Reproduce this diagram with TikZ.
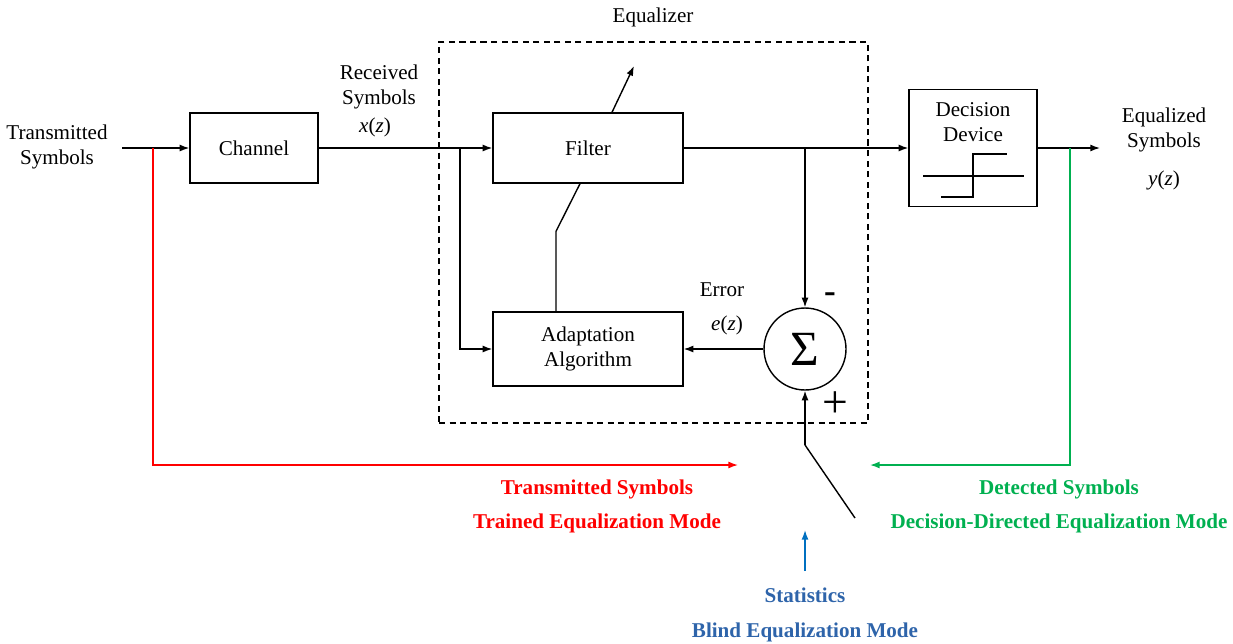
\documentclass[tikz,border=0pt]{standalone}
\usepackage{fontspec}
\setmainfont{Liberation Serif}
\usetikzlibrary{calc,arrows.meta}

\definecolor{trainred}{RGB}{255,0,0}
\definecolor{ddgreen}{RGB}{0,176,80}
\definecolor{blindblue}{RGB}{46,100,170}
\definecolor{arrowblue}{RGB}{0,112,192}

\tikzset{
  blk/.style={draw,line width=0.8pt,align=center},
  lbl/.style={align=center,inner sep=1pt},
  modelbl/.style={font=\fontsize{12}{14}\selectfont\bfseries,inner sep=1pt}
}

\begin{document}
\begin{tikzpicture}[x=0.02cm,y=-0.02cm,>={Latex[length=5.5pt,width=4pt]},line width=0.8pt,
    every node/.style={font=\fontsize{12}{14}\selectfont}]
      \useasboundingbox (0,0) rectangle (1233,643);
      % blocks
      \node [blk,minimum width=2.56cm,minimum height=1.4cm] (chan) at (254,148) {Channel};
      \node [blk,minimum width=3.8cm,minimum height=1.4cm] (filt) at (588,148) {Filter};
      \node [blk,minimum width=3.8cm,minimum height=1.48cm] (adapt) at (588,349) {Adaptation\\Algorithm};
      \node [blk,minimum width=2.56cm,minimum height=2.34cm] (dec) at (973,148) {};
      \node [lbl] (dectxt) at (973,122) {Decision\\Device};
      \node [draw,circle,minimum size=1.64cm,inner sep=0pt] (sum) at (805,349)
            {\fontsize{28}{30}\selectfont Σ};
      \node [draw,dashed,dash pattern=on 3.5pt off 2.5pt,minimum width=8.58cm,
             minimum height=7.62cm] (eqbox) at (653.5,232.5) {};
      % texts
      \node [lbl] (eqtxt) at (653,17) {Equalizer};
      \node [lbl] (txin) at (57,147) {Transmitted\\Symbols};
      \node [lbl] (rxtxt) at (379,87) {Received\\Symbols};
      \node [lbl] (xz) at (375,127) {\textit{x}(\textit{z})};
      \node [lbl] (outtxt) at (1164,130) {Equalized\\Symbols};
      \node [lbl] (yz) at (1164,180) {\textit{y}(\textit{z})};
      \node [lbl] (errtxt) at (722,290) {Error};
      \node [lbl] (ez) at (727,325) {\textit{e}(\textit{z})};
      \node [lbl] (minus) at (830,298) {\fontsize{20}{22}\selectfont\bfseries -};
      \node [lbl] (plus) at (835,405) {\fontsize{26}{28}\selectfont +};
      % points
      \coordinate (inpt) at (122,148);
      \coordinate (redtap) at (153,148);
      \coordinate (rxtap) at (460,148);
      \coordinate (errtap) at (805,148);
      \coordinate (outpt) at (1100,148);
      \coordinate (greentap) at (1070,148);
      \coordinate (tuneend) at (634,66);
      \coordinate (swbot) at (805,445);
      \coordinate (swend) at (855,518);
      \coordinate (redend) at (738,465);
      \coordinate (greenend) at (870,465);
      \coordinate (bluetop) at (805,530);
      % main path
      \draw [->] (inpt) -- (chan.west);
      \draw [->] (chan.east) -- (filt.west);
      \draw [->] (rxtap) |- (adapt.west);
      \draw [->] (filt.east) -- (dec.west);
      \draw [->] (errtap) -- (sum.north);
      \draw [->] (dec.east) -- (outpt);
      \draw [->] (sum.west) -- (adapt.east);
      \draw [->] (filt.north) ++(24,0) -- (tuneend);
      \draw (adapt.north) ++(-32,0) -- ++(0,-80) -- ($(filt.south)+(-8,0)$);
      % decision step
      \draw (923,176) -- (1024,176);
      \draw (941,197) -- (973,197) -- (973,154) -- (1007,154);
      % switch
      \draw [->] (swbot) -- (sum.south);
      \draw (swbot) -- (swend);
      % mode feeds
      \draw [->,trainred] (redtap) |- (redend);
      \draw [->,ddgreen] (greentap) |- (greenend);
      \node [modelbl,text=trainred] (rtx) at (597,489) {Transmitted Symbols};
      \node [modelbl,text=trainred] (rmode) at (597,523) {Trained Equalization Mode};
      \node [modelbl,text=ddgreen] (gdet) at (1059,489) {Detected Symbols};
      \node [modelbl,text=ddgreen] (gmode) at (1059,523) {Decision-Directed Equalization Mode};
      \node [modelbl,text=blindblue] (stat) at (805,595) {Statistics};
      \node [modelbl,text=blindblue] (bmode) at (805,632) {Blind Equalization Mode};
      \draw [->,arrowblue] (stat.north) ++(0,-14) -- (bluetop);
\end{tikzpicture}
\end{document}
